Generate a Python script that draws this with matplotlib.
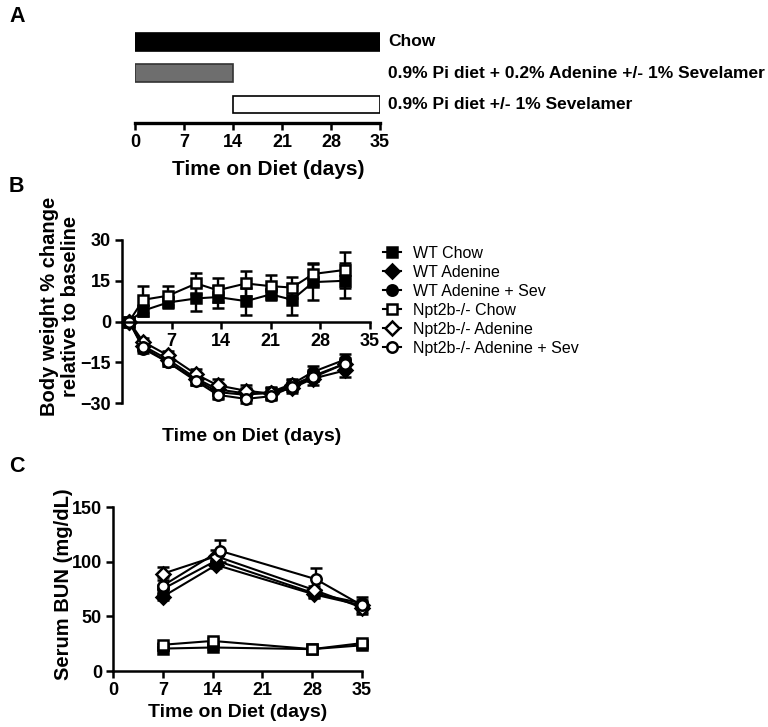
import matplotlib
matplotlib.use("Agg")
import matplotlib.pyplot as plt
from matplotlib.lines import Line2D

plt.rcParams["font.family"] = ["Liberation Sans", "DejaVu Sans"]
plt.rcParams["font.weight"] = "bold"
plt.rcParams["axes.labelweight"] = "bold"

# --- panel A: diet timeline ---
diet_labels = ["Chow", "0.9% Pi diet + 0.2% Adenine +/- 1% Sevelamer", "0.9% Pi diet +/- 1% Sevelamer"]
diet_start = [0, 0, 14]
diet_end = [35, 14, 35]
diet_colors = ["black", "#6e6e6e", "white"]

# --- panel B: body weight % change ---
bw_days = [1, 3, 6.5, 10.5, 13.5, 17.5, 21, 24, 27, 31.5]
bw_wt_chow = [0, 4, 7, 8.5, 9, 7.5, 10, 8, 14.5, 15]
bw_wt_chow_err = [0, 2, 2, 4.5, 4, 5, 2, 5.5, 6.5, 6.5]
bw_wt_ade = [0, -9, -14, -21, -25, -26.5, -26.5, -24.5, -21, -18]
bw_wt_ade_err = [0, 1.5, 1.5, 2, 2, 2, 2, 2, 2.5, 2.5]
bw_wt_sev = [0, -10, -15, -21.5, -26, -27, -26, -23, -18.5, -14]
bw_wt_sev_err = [0, 1.5, 1.5, 2, 2, 2, 2, 2, 2, 2]
bw_ko_chow = [0, 8, 9.5, 14, 11.5, 14, 13, 12.5, 17.5, 19]
bw_ko_chow_err = [0, 5, 3.5, 4, 4.5, 4.5, 4, 4, 4, 6.5]
bw_ko_ade = [0, -7.5, -12.5, -19.5, -23.5, -25.5, -26.5, -23.5, -20, -15.5]
bw_ko_ade_err = [0, 1.5, 1.5, 2, 2.5, 2, 2, 2, 2, 2]
bw_ko_sev = [0, -9.5, -15, -22, -27, -28.5, -27.5, -24, -20.5, -15.5]
bw_ko_sev_err = [0, 1.5, 1.5, 1.5, 1.5, 1.5, 1.5, 1.5, 1.5, 1.5]

# --- panel C: serum BUN ---
bun_days = [7, 14, 28, 35]
bun_days_ade = [7, 14.5, 28.3, 35]
bun_days_ko_sev = [7, 15, 28.5, 35]
bun_wt_chow = [20.5, 21.5, 20, 23.5]
bun_wt_chow_err = [1.5, 1.5, 1, 1.5]
bun_wt_ade = [68, 97, 70, 60]
bun_wt_ade_err = [3, 3, 3, 3]
bun_wt_sev = [75, 101, 71, 62]
bun_wt_sev_err = [4, 4, 3, 3]
bun_ko_chow = [24, 27.5, 20, 25.5]
bun_ko_chow_err = [2, 3, 1.5, 2]
bun_ko_ade = [89, 105, 74, 58]
bun_ko_ade_err = [6, 6, 4, 4]
bun_ko_sev = [78, 110, 84, 60]
bun_ko_sev_err = [8, 10, 10, 8]

group_names = ["WT Chow", "WT Adenine", "WT Adenine + Sev",
               "Npt2b-/- Chow", "Npt2b-/- Adenine", "Npt2b-/- Adenine + Sev"]
group_markers = ["s", "D", "o", "s", "D", "o"]
group_faces = ["black", "black", "black", "white", "white", "white"]
group_msize = [7, 7, 7.5, 7, 7, 7.5]

W, H = 768, 727
fig = plt.figure(figsize=(W / 100, H / 100), dpi=100)


def px_axes(left, top, right, bottom):
    return fig.add_axes([left / W, 1 - bottom / H, (right - left) / W, (bottom - top) / H])


def style_axis(ax):
    for s in ax.spines.values():
        s.set_linewidth(1.8)
    ax.tick_params(width=1.8, length=5, labelsize=13, direction="out", pad=3)
    for lab in ax.get_xticklabels() + ax.get_yticklabels():
        lab.set_fontweight("bold")


# ---------- A ----------
axA = px_axes(135, 28, 380, 123)
ypos = [2, 1, 0]
axA.barh(ypos, [e - s for s, e in zip(diet_start, diet_end)], left=diet_start,
         height=0.55, color=diet_colors, edgecolor=["black", "#333333", "black"], linewidth=1.2)
for y, lab in zip(ypos, diet_labels):
    axA.text(36.2, y, lab, va="center", ha="left", fontsize=12.5, fontweight="bold", clip_on=False)
axA.set_xlim(0, 35)
axA.set_ylim(-0.61, 2.45)
axA.set_xticks(range(0, 36, 7))
axA.set_yticks([])
for side in ["top", "right", "left"]:
    axA.spines[side].set_visible(False)
style_axis(axA)
axA.spines["bottom"].set_linewidth(2.4)
axA.set_xlabel("Time on Diet (days)", fontsize=15, fontweight="bold")
axA.xaxis.set_label_coords(0.543, -0.39)

# ---------- B ----------
axB = px_axes(122, 240, 370, 403)
bw_series = [(bw_wt_chow, bw_wt_chow_err), (bw_wt_ade, bw_wt_ade_err), (bw_wt_sev, bw_wt_sev_err),
             (bw_ko_chow, bw_ko_chow_err), (bw_ko_ade, bw_ko_ade_err), (bw_ko_sev, bw_ko_sev_err)]
for (vals, errs), m, fc, ms in zip(bw_series, group_markers, group_faces, group_msize):
    axB.errorbar(bw_days, vals, yerr=errs, fmt="-" + m, color="black", mfc=fc, mec="black",
                 ms=ms, mew=1.8, lw=1.5, elinewidth=1.7, capsize=4, capthick=1.7, clip_on=False)
axB.set_xlim(0, 35)
axB.set_ylim(-30, 30)
axB.set_xticks([7, 14, 21, 28, 35])
axB.set_yticks([30, 15, 0, -15, -30])
axB.spines["bottom"].set_position(("data", 0))
for side in ["top", "right"]:
    axB.spines[side].set_visible(False)
style_axis(axB)
axB.set_ylabel("Body weight % change\nrelative to baseline", fontsize=14.5, fontweight="bold",
               linespacing=1.15)
axB.yaxis.set_label_coords(-0.17, 0.59)
axB.set_xlabel("Time on Diet (days)", fontsize=14, fontweight="bold")
axB.xaxis.set_label_coords(0.524, -0.155)

handles = [Line2D([], [], color="black", marker=m, mfc=fc, mec="black", ms=ms, mew=1.8, lw=1.5)
           for m, fc, ms in zip(group_markers, group_faces, group_msize)]
fig.legend(handles, group_names, loc="upper left", bbox_to_anchor=(383 / W, 1 - 246 / H),
           frameon=False, handlelength=1.1, handletextpad=0.75, labelspacing=0.25,
           prop={"family": "Liberation Sans", "weight": "normal", "size": 11.5},
           borderaxespad=0, borderpad=0)

# ---------- C ----------
axC = px_axes(113, 507, 362, 671)
bun_series = [(bun_days, bun_wt_chow, bun_wt_chow_err), (bun_days_ade, bun_wt_ade, bun_wt_ade_err),
              (bun_days_ade, bun_wt_sev, bun_wt_sev_err), (bun_days, bun_ko_chow, bun_ko_chow_err),
              (bun_days_ade, bun_ko_ade, bun_ko_ade_err), (bun_days_ko_sev, bun_ko_sev, bun_ko_sev_err)]
for (xs, vals, errs), m, fc, ms in zip(bun_series, group_markers, group_faces, group_msize):
    axC.errorbar(xs, vals, yerr=errs, fmt="-" + m, color="black", mfc=fc, mec="black",
                 ms=ms, mew=1.8, lw=1.5, elinewidth=1.7, capsize=4, capthick=1.7, clip_on=False)
axC.set_xlim(0, 35)
axC.set_ylim(0, 150)
axC.set_xticks(range(0, 36, 7))
axC.set_yticks([0, 50, 100, 150])
for side in ["top", "right"]:
    axC.spines[side].set_visible(False)
style_axis(axC)
axC.set_ylabel("Serum BUN (mg/dL)", fontsize=14.5, fontweight="bold")
axC.yaxis.set_label_coords(-0.16, 0.53)
axC.set_xlabel("Time on Diet (days)", fontsize=14, fontweight="bold")
axC.xaxis.set_label_coords(0.5, -0.2)

# panel letters
for lab, y in [("A", 16), ("B", 186), ("C", 466)]:
    fig.text(9 / W, 1 - y / H, lab, fontsize=15.5, fontweight="bold", va="center", ha="left")

fig.savefig("out.png", dpi=100)
